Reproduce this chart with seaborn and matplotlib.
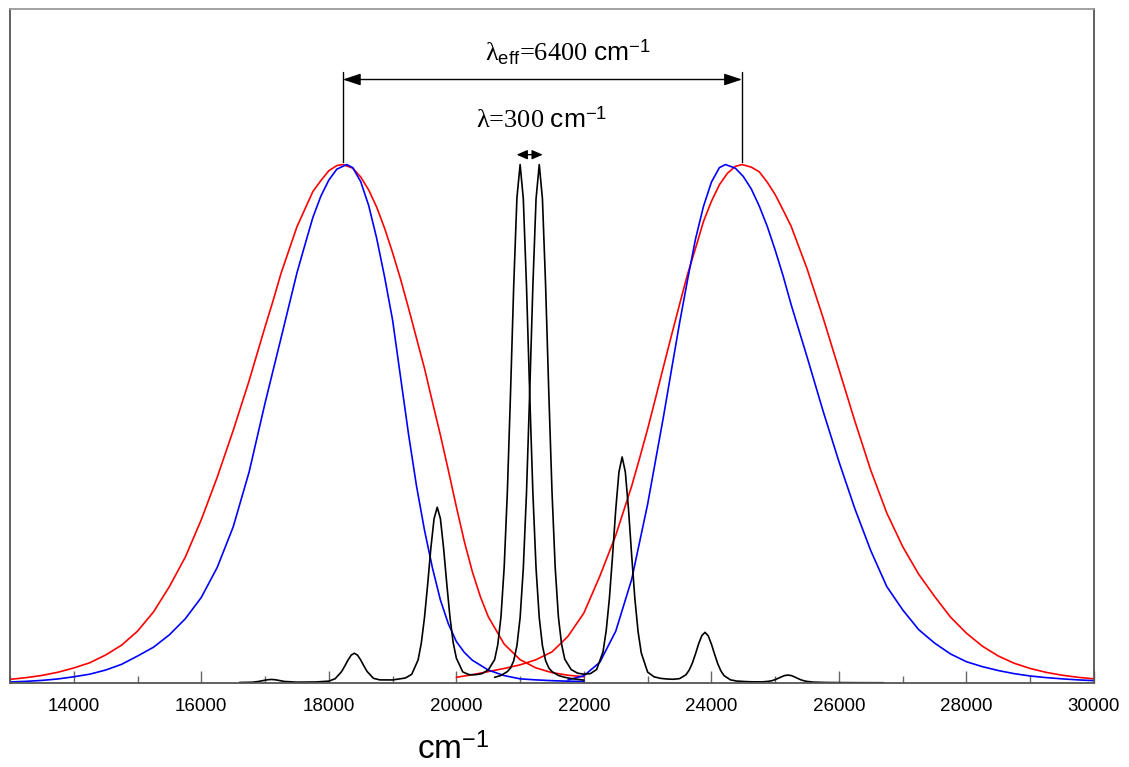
import numpy as np
import matplotlib
matplotlib.use("Agg")
import matplotlib.pyplot as plt
import seaborn as sns

# === Data (x in cm-1, y relative intensity) ===
# broad bands, red
red_left_x = [13000, 13250, 13500, 13750, 14000, 14250, 14500, 14750, 15000, 15250, 15500, 15750,
              16000, 16250, 16500, 16750, 17000, 17125, 17250, 17375, 17500, 17625, 17750, 17875,
              18000, 18125, 18220, 18375, 18500, 18625, 18750, 18875, 19000, 19125, 19250, 19375,
              19500, 19625, 19750, 19875, 20000, 20125, 20250, 20375, 20500, 20750, 21000, 21250,
              21500, 21750, 22000]
red_left_y = [0.007, 0.0103, 0.0146, 0.0207, 0.029, 0.039, 0.054, 0.073, 0.100, 0.137, 0.186, 0.243,
              0.315, 0.397, 0.487, 0.583, 0.687, 0.737, 0.790, 0.835, 0.880, 0.914, 0.948, 0.969,
              0.988, 0.998, 1.0, 0.993, 0.976, 0.951, 0.918, 0.877, 0.830, 0.779, 0.723, 0.665,
              0.607, 0.542, 0.478, 0.410, 0.340, 0.273, 0.215, 0.167, 0.128, 0.075, 0.045, 0.029,
              0.020, 0.015, 0.012]

red_right_x = [20000, 20250, 20500, 20750, 21000, 21250, 21500, 21750, 22000, 22250, 22500, 22750,
               22875, 23000, 23125, 23250, 23375, 23500, 23625, 23750, 23875, 24000, 24125, 24250,
               24375, 24480, 24625, 24750, 24875, 25000, 25125, 25250, 25375, 25500, 25750, 26000,
               26250, 26500, 26750, 27000, 27250, 27500, 27750, 28000, 28250, 28500, 28750, 29000,
               29250, 29500, 29750, 30000]
red_right_y = [0.011, 0.016, 0.022, 0.028, 0.035, 0.045, 0.060, 0.090, 0.135, 0.206, 0.285, 0.380,
               0.434, 0.490, 0.550, 0.611, 0.671, 0.730, 0.788, 0.838, 0.890, 0.929, 0.961, 0.983,
               0.9965, 1.0, 0.995, 0.986, 0.966, 0.942, 0.912, 0.881, 0.840, 0.799, 0.705, 0.605,
               0.505, 0.410, 0.328, 0.263, 0.210, 0.167, 0.127, 0.096, 0.071, 0.052, 0.038, 0.028,
               0.0205, 0.015, 0.011, 0.008]

# broad bands, blue
blue_left_x = [13000, 13250, 13500, 13750, 14000, 14250, 14500, 14750, 15000, 15250, 15500, 15750,
               16000, 16250, 16500, 16750, 17000, 17250, 17375, 17500, 17625, 17750, 17875, 18000,
               18125, 18280, 18375, 18500, 18625, 18750, 18875, 19000, 19125, 19250, 19375, 19500,
               19625, 19750, 19875, 20000, 20125, 20250, 20500, 20750, 21000, 21250, 21500, 21750,
               22000]
blue_left_y = [0.002, 0.0032, 0.005, 0.0078, 0.012, 0.017, 0.025, 0.036, 0.052, 0.069, 0.093, 0.124,
               0.165, 0.223, 0.301, 0.407, 0.540, 0.665, 0.728, 0.791, 0.845, 0.898, 0.939, 0.970,
               0.991, 1.0, 0.994, 0.967, 0.921, 0.858, 0.783, 0.700, 0.590, 0.480, 0.380, 0.295,
               0.222, 0.160, 0.114, 0.080, 0.059, 0.044, 0.025, 0.0143, 0.008, 0.006, 0.0045, 0.0035,
               0.003]

blue_right_x = [21750, 22000, 22250, 22500, 22750, 23000, 23250, 23375, 23500, 23625, 23750, 23875,
                24000, 24125, 24220, 24375, 24500, 24625, 24750, 24875, 25000, 25125, 25250, 25500,
                25750, 26000, 26250, 26500, 26750, 27000, 27250, 27500, 27750, 28000, 28250, 28500,
                28750, 29000, 29250, 29500, 29750, 30000]
blue_right_y = [0.006, 0.014, 0.040, 0.100, 0.200, 0.345, 0.515, 0.605, 0.694, 0.777, 0.856, 0.919,
                0.966, 0.994, 1.0, 0.993, 0.977, 0.953, 0.920, 0.881, 0.835, 0.785, 0.730, 0.629,
                0.525, 0.427, 0.336, 0.255, 0.186, 0.141, 0.103, 0.077, 0.056, 0.041, 0.0315, 0.024,
                0.018, 0.0135, 0.0104, 0.008, 0.006, 0.0045]

# narrow vibronic progressions, black
black_a_x = [16600, 16800, 16900, 17000, 17050, 17100, 17150, 17200, 17300, 17500,
             17800, 18000, 18100, 18200, 18250, 18300, 18350, 18400, 18450, 18500,
             18550, 18600, 18700, 18800, 19000, 19200, 19300, 19400, 19450, 19500,
             19550, 19600, 19650, 19700, 19750, 19800, 19850, 19900, 19950, 20000,
             20100, 20200, 20300, 20400, 20500, 20600, 20650, 20700, 20750, 20800,
             20850, 20900, 20950, 21000, 21050, 21100, 21150, 21200, 21250, 21300,
             21350, 21400, 21450, 21500, 21600, 21700, 21800, 22000]
black_a_y = [0.001, 0.0015, 0.003, 0.0054, 0.0064, 0.0068, 0.0064, 0.0054, 0.003, 0.0016,
             0.002, 0.0036, 0.0083, 0.022, 0.0326, 0.044, 0.0536, 0.0574, 0.0537, 0.0444,
             0.0329, 0.0223, 0.009, 0.006, 0.0059, 0.0096, 0.0167, 0.0445, 0.0766, 0.126,
             0.190, 0.260, 0.3165, 0.339, 0.317, 0.260, 0.191, 0.127, 0.078, 0.048,
             0.0214, 0.016, 0.016, 0.018, 0.025, 0.045, 0.074, 0.128, 0.223, 0.369,
             0.561, 0.768, 0.936, 1.0, 0.934, 0.766, 0.559, 0.367, 0.221, 0.126,
             0.072, 0.043, 0.029, 0.022, 0.0145, 0.011, 0.0086, 0.0056]

black_b_x = [20600, 20700, 20800, 20850, 20900, 20950, 21000, 21050, 21100, 21150,
             21200, 21250, 21300, 21350, 21400, 21450, 21500, 21550, 21600, 21650,
             21700, 21800, 21900, 22000, 22100, 22200, 22300, 22350, 22400, 22450,
             22500, 22550, 22600, 22650, 22700, 22750, 22800, 22850, 22900, 23000,
             23100, 23200, 23300, 23400, 23500, 23600, 23650, 23700, 23750, 23800,
             23850, 23900, 23950, 24000, 24050, 24100, 24150, 24200, 24300, 24400,
             24500, 24600, 24700, 24800, 24900, 24950, 25000, 25050, 25100, 25150,
             25200, 25250, 25300, 25350, 25400, 25450, 25500, 25600, 25800, 26000,
             26300, 26700]
black_b_y = [0.011, 0.0145, 0.022, 0.029, 0.043, 0.072, 0.126, 0.221, 0.367, 0.559,
             0.766, 0.934, 1.0, 0.934, 0.766, 0.559, 0.369, 0.223, 0.128, 0.075,
             0.046, 0.026, 0.019, 0.017, 0.018, 0.026, 0.060, 0.101, 0.163, 0.246,
             0.335, 0.407, 0.436, 0.407, 0.335, 0.245, 0.162, 0.099, 0.058, 0.021,
             0.012, 0.009, 0.0077, 0.0072, 0.0084, 0.0158, 0.0246, 0.038, 0.056, 0.0757,
             0.0915, 0.0977, 0.091, 0.075, 0.0554, 0.037, 0.023, 0.014, 0.006, 0.0037,
             0.003, 0.0024, 0.0022, 0.0022, 0.0033, 0.0045, 0.0065, 0.0092, 0.012, 0.0144,
             0.0153, 0.0144, 0.012, 0.009, 0.0063, 0.0043, 0.003, 0.0017, 0.001, 0.0008,
             0.0006, 0.0005]

x_ticks = [14000, 16000, 18000, 20000, 22000, 24000, 26000, 28000, 30000]
x_minor = [13000, 15000, 17000, 19000, 21000, 23000, 25000, 27000, 29000]

# === Style ===
sns.set_theme(style="white")
plt.rcParams["font.family"] = ["Liberation Sans", "DejaVu Sans"]
plt.rcParams["mathtext.fontset"] = "custom"
plt.rcParams["mathtext.rm"] = "Liberation Serif"
plt.rcParams["mathtext.it"] = "Liberation Serif:italic"
plt.rcParams["mathtext.bf"] = "Liberation Serif:bold"
plt.rcParams["mathtext.sf"] = "Liberation Sans"

fig = plt.figure(figsize=(11.29, 7.67), dpi=100)
ax = fig.add_axes([10 / 1129, 1 - 683 / 767, 1084 / 1129, 674 / 767])

lw = 1.2
for xs, ys, col in [(red_left_x, red_left_y, "#ff0000"), (red_right_x, red_right_y, "#ff0000"),
                    (blue_left_x, blue_left_y, "#0000ff"), (blue_right_x, blue_right_y, "#0000ff"),
                    (black_a_x, black_a_y, "black"), (black_b_x, black_b_y, "black")]:
    sns.lineplot(x=xs, y=ys, ax=ax, color=col, linewidth=lw, estimator=None)

ax.set_xlim(13000, 30000)
ax.set_ylim(0, 1.30)
ax.set_yticks([])
ax.set_xticks(x_ticks)
ax.set_xticks(x_minor, minor=True)
ax.set_xticklabels([str(t) for t in x_ticks])
ax.tick_params(axis="x", which="major", direction="in", length=9, width=1, color="#666666",
               labelsize=13.5, pad=10.5, labelcolor="black", bottom=True)
ax.tick_params(axis="x", which="minor", direction="in", length=5, width=1, color="#666666", bottom=True)
ax.set_xlabel("")
ax.set_ylabel("")

for side in ["left", "bottom", "right"]:
    ax.spines[side].set_color("#555555")
    ax.spines[side].set_linewidth(1.3)
ax.spines["top"].set_color("#9a9a9a")
ax.spines["top"].set_linewidth(1.3)

# === Annotations ===
left_peak = red_left_x[int(np.argmax(red_left_y))]
right_peak = red_right_x[int(np.argmax(red_right_y))]
arrow_y = 1.164
for xp in [left_peak, right_peak]:
    ax.plot([xp, xp], [1.005, 1.178], color="black", lw=1.0)
ax.annotate("", xy=(right_peak, arrow_y), xytext=(left_peak, arrow_y),
            arrowprops=dict(arrowstyle="<|-|>,head_length=0.9,head_width=0.3", color="black",
                            lw=1.0, shrinkA=0, shrinkB=0, mutation_scale=12))

pa = black_a_x[int(np.argmax(black_a_y))]
pb = black_b_x[int(np.argmax(black_b_y))]
ax.annotate("", xy=(pb + 55, 1.019), xytext=(pa - 55, 1.019),
            arrowprops=dict(arrowstyle="<|-|>,head_length=0.8,head_width=0.35", color="black",
                            lw=1.0, shrinkA=0, shrinkB=0, mutation_scale=8))

ax.text(21750, 1.200, r"$\mathrm{\lambda}_{\mathsf{eff}}$=6400 $\mathsf{cm}^{\mathsf{-1}}$",
        ha="center", va="baseline", fontsize=19, color="black", fontfamily="Liberation Serif")
ax.text(21340, 1.071, r"$\mathrm{\lambda}$=300 $\mathsf{cm}^{\mathsf{-1}}$",
        ha="center", va="baseline", fontsize=19, color="black", fontfamily="Liberation Serif")

fig.text(453 / 1129, 1 / 767, r"$\mathsf{cm}^{\mathsf{-1}}$", ha="center", va="bottom",
         fontsize=24, color="black")

fig.savefig("out.png", dpi=100, facecolor="white")
